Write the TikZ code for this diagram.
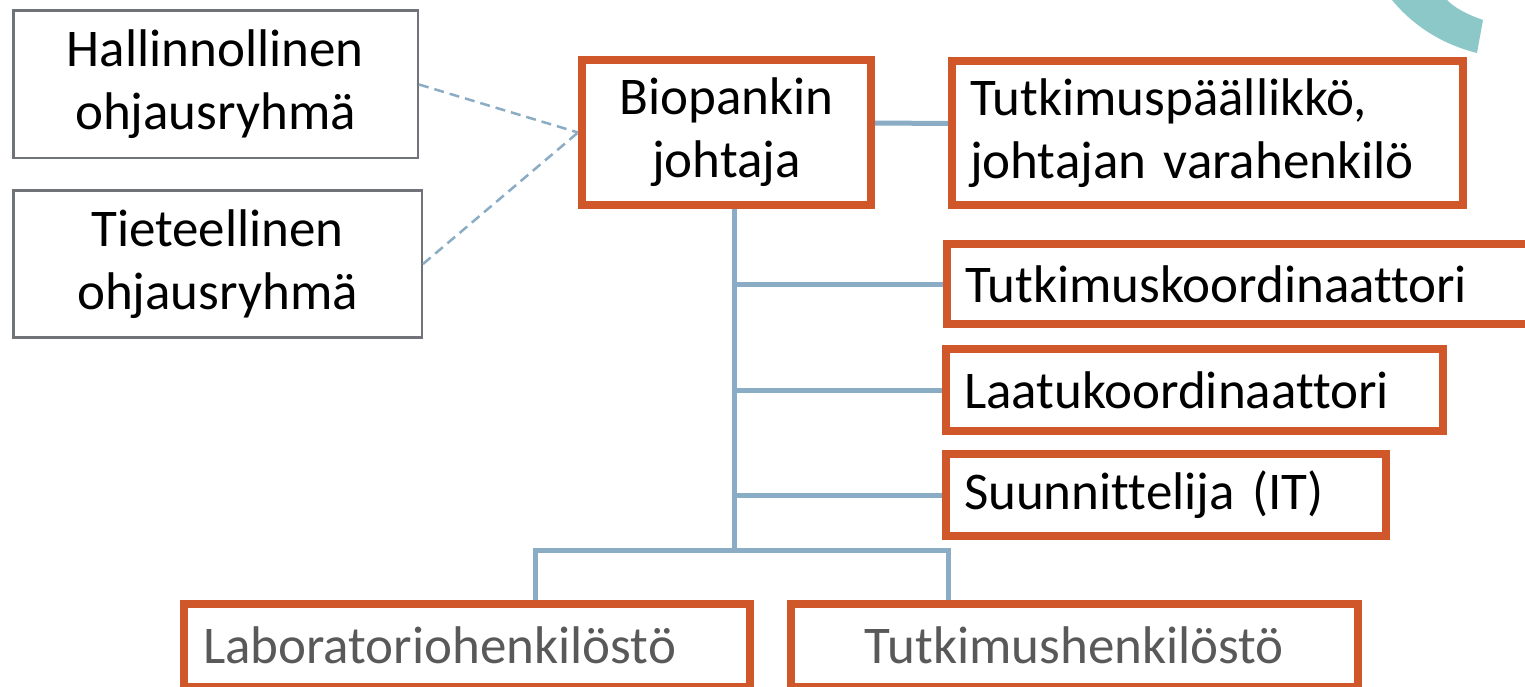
\documentclass[tikz,border=0pt]{standalone}
\usepackage{fontspec}
\setmainfont[Ligatures=NoCommon]{Carlito}
\usepackage{tikz}

\definecolor{rust}{RGB}{208,87,42}
\definecolor{steel}{RGB}{138,172,196}
\definecolor{frame}{RGB}{112,116,120}
\definecolor{arcteal}{RGB}{140,200,200}
\definecolor{txtgray}{RGB}{89,89,89}

\tikzset{
  orgbox/.style={draw=rust, line width=8pt, inner sep=0pt, font=\fontsize{53}{63}\selectfont},
  groupbox/.style={draw=frame, line width=2.5pt, inner sep=0pt, align=center, font=\fontsize{53}{63}\selectfont},
  link/.style={steel, line width=5pt},
  advice/.style={steel, line width=2.5pt, dash pattern=on 10pt off 6pt}
}

\begin{document}
\begin{tikzpicture}[x=1pt,y=-1pt]
\useasboundingbox (0,0) rectangle (1525,687);
\clip (0,0) rectangle (1525,687);

% corner of the background swoosh
\fill[arcteal] (1392,0) .. controls (1415,28) and (1445,45) .. (1477,53) -- (1483,20) .. controls (1466,14) and (1455,8) .. (1447,0) -- cycle;

% steering groups
\node[groupbox, minimum width=404.5pt, minimum height=147.5pt] (hall) at (215.5,84.5) {Hallinnollinen\\ohjausryhmä};
\node[groupbox, minimum width=408.5pt, minimum height=146.5pt] (tiet) at (217.5,264) {Tieteellinen\\ohjausryhmä};

% staff
\node[orgbox, align=center, minimum width=289pt, minimum height=145pt] (johtaja) at (726.5,132.5) {Biopankin\\johtaja};
\node[orgbox, align=left, inner xsep=18pt, text width=475pt, minimum height=144pt] (paallikko) at (1207.5,133) {Tutkimuspäällikkö,\\johtajan varahenkilö};
\node[orgbox, align=left, inner xsep=18pt, text width=584pt, minimum height=80pt] (tkoord) at (1257,284) {Tutkimuskoordinaattori};
\node[orgbox, align=left, inner xsep=18pt, text width=461pt, minimum height=82pt] (laatu) at (1194.5,390) {Laatukoordinaattori};
\node[orgbox, align=left, inner xsep=18pt, text width=404pt, minimum height=82pt] (suun) at (1166,495) {Suunnittelija (IT)};
\node[orgbox, align=left, inner xsep=19pt, text width=528pt, minimum height=83pt, text=txtgray] (lab) at (467,645.5) {Laboratoriohenkilöstö};
\node[orgbox, align=center, minimum width=567pt, minimum height=83pt, text=txtgray] (tutk) at (1074.5,645.5) {Tutkimushenkilöstö};

% connectors
\coordinate (fork) at (734,550);
\coordinate (lableg) at (535,550);
\coordinate (tutleg) at (948,550);
\draw[advice] (hall.east) -- (johtaja.west);
\draw[advice] (tiet.east) -- (johtaja.west);
\draw[link] ([yshift=9.5pt]johtaja.east) -- ([yshift=9.5pt]paallikko.west);
\draw[link] (johtaja.south -| fork) -- (fork);
\foreach \n in {tkoord,laatu,suun}
  \draw[link] (\n.west -| fork) -- (\n.west);
\draw[link] (lab.north -| lableg) |- (fork) -| (tutk.north -| tutleg);
\end{tikzpicture}
\end{document}
